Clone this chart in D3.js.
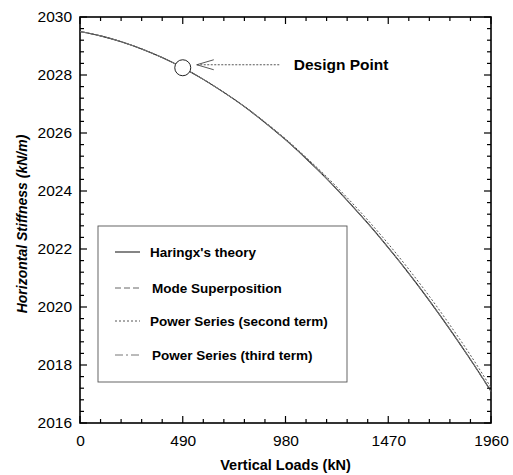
<!DOCTYPE html>
<html>
<head>
<meta charset="utf-8">
<script src="https://cdn.jsdelivr.net/npm/d3@7"></script>
<style>
  html, body { margin: 0; padding: 0; background: #fff; }
  svg { display: block; font-family: "Liberation Sans", Arial, sans-serif; }
</style>
</head>
<body>
<svg id="chart" width="513" height="475"></svg>
<script>
// Vertical load (kN) sampled every 98 kN
const loads = [0, 98, 196, 294, 392, 490, 588, 686, 784, 882, 980,
               1078, 1176, 1274, 1372, 1470, 1568, 1666, 1764, 1862, 1960];

// Horizontal stiffness (kN/m) for each method
const haringx = [2029.50, 2029.35, 2029.15, 2028.90, 2028.60, 2028.25, 2027.85, 2027.40,
                 2026.91, 2026.36, 2025.77, 2025.12, 2024.43, 2023.68, 2022.89, 2022.05,
                 2021.16, 2020.22, 2019.23, 2018.19, 2017.10];
const modeSuperposition = [2029.50, 2029.35, 2029.15, 2028.90, 2028.60, 2028.25, 2027.85, 2027.40,
                 2026.91, 2026.36, 2025.77, 2025.12, 2024.43, 2023.68, 2022.88, 2022.04,
                 2021.15, 2020.21, 2019.22, 2018.18, 2017.08];
const powerSecond = [2029.50, 2029.35, 2029.15, 2028.90, 2028.60, 2028.25, 2027.85, 2027.40,
                 2026.92, 2026.38, 2025.80, 2025.16, 2024.49, 2023.77, 2023.00, 2022.18,
                 2021.30, 2020.37, 2019.38, 2018.34, 2017.22];
const powerThird = [2029.50, 2029.35, 2029.15, 2028.90, 2028.60, 2028.25, 2027.85, 2027.40,
                 2026.91, 2026.36, 2025.77, 2025.12, 2024.43, 2023.68, 2022.89, 2022.05,
                 2021.16, 2020.23, 2019.24, 2018.20, 2017.12];

const seriesNames = ["Haringx's theory", "Mode Superposition",
                     "Power Series (second term)", "Power Series (third term)"];

// Design point marked on the curve
const designLoad = 490;
const designStiffness = 2028.25;

const xTicks = [0, 490, 980, 1470, 1960];
const yTicks = [2016, 2018, 2020, 2022, 2024, 2026, 2028, 2030];

const svg = d3.select("#chart");
const margin = { left: 80, right: 22, top: 17, bottom: 52 };
const W = 513, H = 475;

const x = d3.scaleLinear().domain([0, 1960]).range([margin.left, W - margin.right]);
const y = d3.scaleLinear().domain([2016, 2030]).range([H - margin.bottom, margin.top]);

const x0 = x.range()[0], x1 = x.range()[1];
const y0 = y.range()[0], y1 = y.range()[1];

// Tick marks pointing inward on all four sides
const xMinor = d3.range(0, 1960 + 1, 98);
const yMinor = d3.range(0, 36).map(i => 2016 + i * 0.4).filter(v => v <= 2030.001);
const tickG = svg.append("g").attr("stroke", "#000").attr("stroke-width", 1.2);
xMinor.forEach(v => {
  const major = xTicks.includes(v);
  const len = major ? 7 : 4;
  tickG.append("line").attr("x1", x(v)).attr("x2", x(v)).attr("y1", y0).attr("y2", y0 - len);
  tickG.append("line").attr("x1", x(v)).attr("x2", x(v)).attr("y1", y1).attr("y2", y1 + len);
});
yMinor.forEach(v => {
  const major = yTicks.some(t => Math.abs(t - v) < 1e-6);
  const len = major ? 7 : 4;
  tickG.append("line").attr("x1", x0).attr("x2", x0 + len).attr("y1", y(v)).attr("y2", y(v));
  tickG.append("line").attr("x1", x1).attr("x2", x1 - len).attr("y1", y(v)).attr("y2", y(v));
});

// Tick labels via D3 axes (domain/tick lines hidden, drawn above)
const xAxis = svg.append("g").attr("transform", `translate(0,${y0})`)
  .call(d3.axisBottom(x).tickValues(xTicks).tickSize(0).tickPadding(8).tickFormat(d3.format("d")));
const yAxis = svg.append("g").attr("transform", `translate(${x0},0)`)
  .call(d3.axisLeft(y).tickValues(yTicks).tickSize(0).tickPadding(8).tickFormat(d3.format("d")));
[xAxis, yAxis].forEach(a => {
  a.select(".domain").remove();
  a.selectAll("text").attr("font-family", "'Liberation Sans', Arial, sans-serif")
    .attr("font-size", 15.5).attr("fill", "#000");
});
xAxis.selectAll("text").attr("dy", "0.95em");

// Frame
svg.append("rect").attr("x", x0).attr("y", y1).attr("width", x1 - x0).attr("height", y0 - y1)
  .attr("fill", "none").attr("stroke", "#000").attr("stroke-width", 1.6);

// Curves
const styles = [
  { data: haringx, stroke: "#222", dash: null, width: 1.1 },
  { data: modeSuperposition, stroke: "#666", dash: "6,3", width: 1 },
  { data: powerSecond, stroke: "#555", dash: "2,2", width: 1 },
  { data: powerThird, stroke: "#777", dash: "8,3,2,3", width: 1 }
];
const line = d3.line().x(d => x(d[0])).y(d => y(d[1])).curve(d3.curveMonotoneX);
styles.forEach(s => {
  svg.append("path")
    .datum(loads.map((p, i) => [p, s.data[i]]))
    .attr("d", line)
    .attr("fill", "none")
    .attr("stroke", s.stroke)
    .attr("stroke-width", s.width)
    .attr("stroke-dasharray", s.dash);
});

// Design point marker and callout
const cx = x(designLoad), cy = y(designStiffness);
svg.append("circle").attr("cx", cx).attr("cy", cy).attr("r", 8)
  .attr("fill", "#fff").attr("stroke", "#222").attr("stroke-width", 1);
const ax = cx + 14, ay = cy - 3;
svg.append("line").attr("x1", ax).attr("y1", ay).attr("x2", ax + 84).attr("y2", ay)
  .attr("stroke", "#444").attr("stroke-width", 0.9).attr("stroke-dasharray", "2,1.5");
svg.append("path").attr("d", `M${ax + 17},${ay - 5} L${ax},${ay} L${ax + 17},${ay + 5}`)
  .attr("fill", "none").attr("stroke", "#444").attr("stroke-width", 0.9);
svg.append("text").attr("x", ax + 97).attr("y", ay + 5.5)
  .attr("font-size", 15.5).attr("font-weight", "bold").text("Design Point");

// Legend
const lg = svg.append("g");
lg.append("rect").attr("x", 98).attr("y", 226).attr("width", 249).attr("height", 156)
  .attr("fill", "#fff").attr("stroke", "#555").attr("stroke-width", 0.9);
const legendY = [252, 288, 321, 355];
seriesNames.forEach((name, i) => {
  const s = styles[i];
  lg.append("line").attr("x1", 115).attr("x2", 140).attr("y1", legendY[i]).attr("y2", legendY[i])
    .attr("stroke", s.stroke).attr("stroke-width", s.width).attr("stroke-dasharray", s.dash);
  lg.append("text").attr("x", i % 2 ? 152 : 150).attr("y", legendY[i]).attr("dy", "0.35em")
    .attr("font-size", 13.5).attr("font-weight", "bold").text(name);
});

// Axis titles
svg.append("text").attr("x", (x0 + x1) / 2).attr("y", 470)
  .attr("text-anchor", "middle").attr("font-size", 14.5).attr("font-weight", "bold")
  .text("Vertical Loads (kN)");
svg.append("text")
  .attr("transform", `translate(27,${(y0 + y1) / 2 + 4}) rotate(-90)`)
  .attr("text-anchor", "middle").attr("font-size", 14).attr("font-weight", "bold")
  .attr("font-style", "italic")
  .text("Horizontal Stiffness (kN/m)");
</script>
</body>
</html>
